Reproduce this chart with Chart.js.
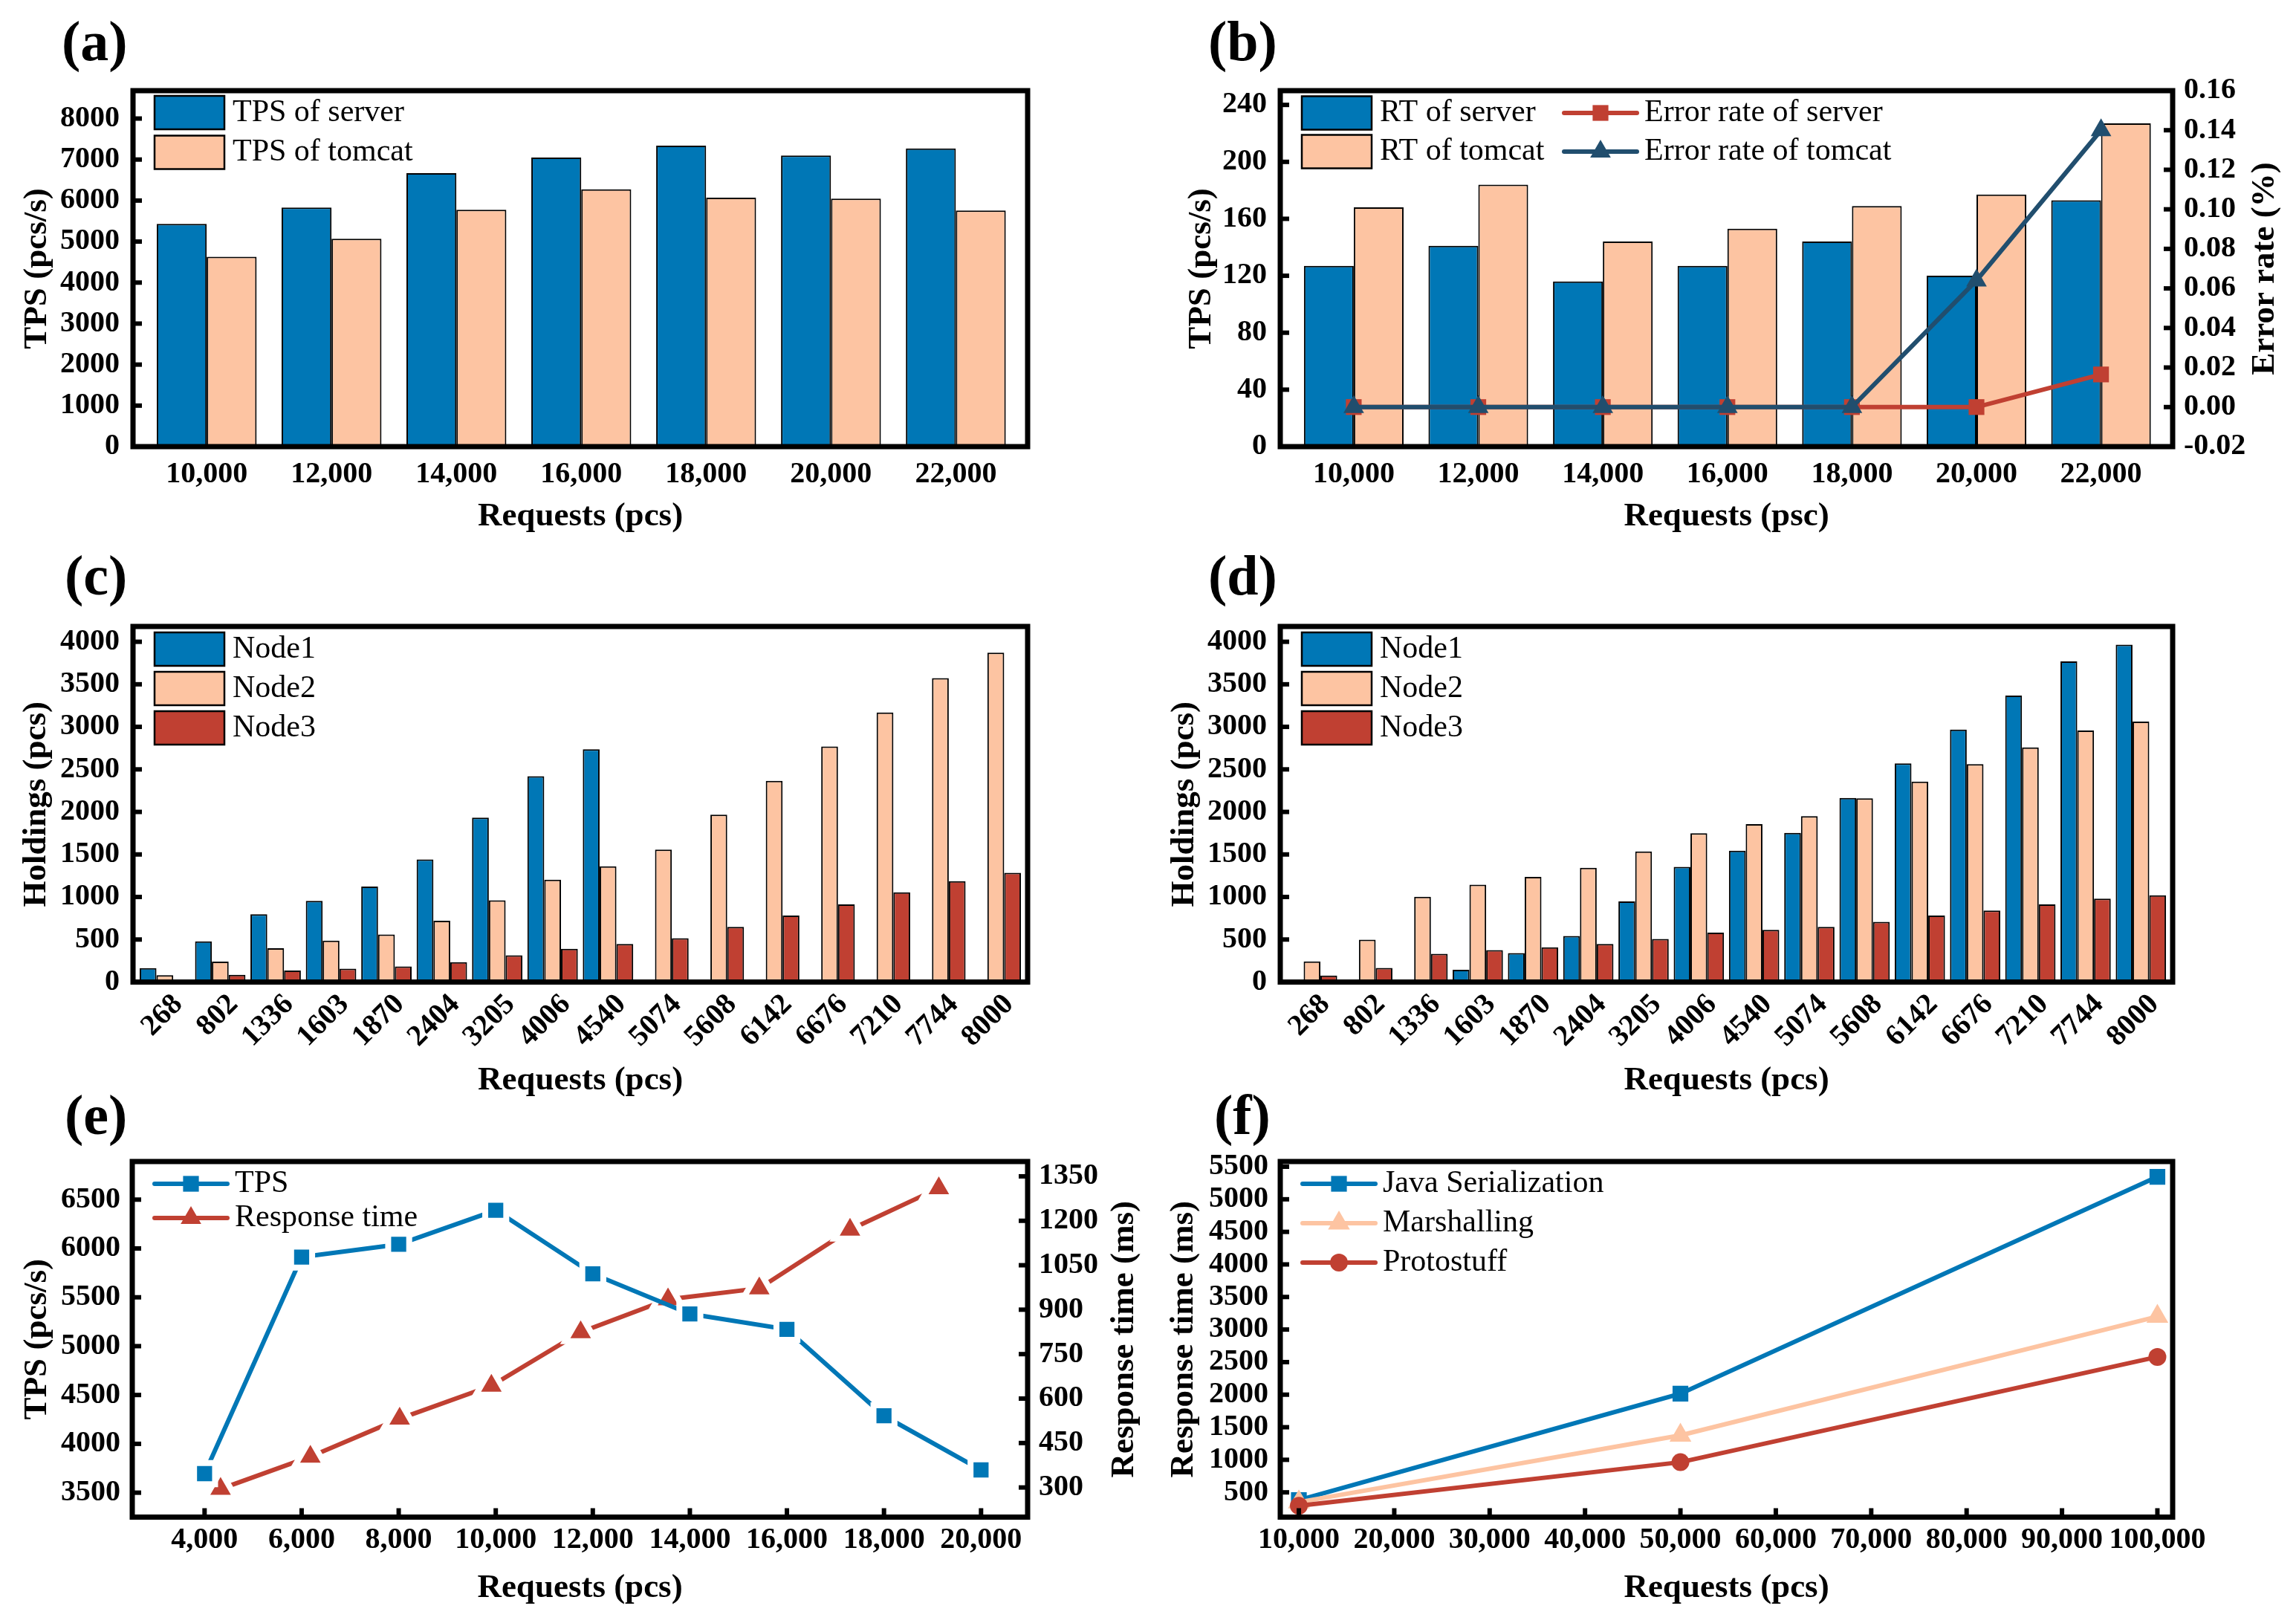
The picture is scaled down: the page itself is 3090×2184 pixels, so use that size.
<!DOCTYPE html>
<html lang="en">
<head>
<meta charset="UTF-8">
<title>Server performance panels</title>
<script src="https://cdn.jsdelivr.net/npm/chart.js"></script>
<style>
  html, body { margin: 0; padding: 0; background: #fff; overflow: hidden; }
  #page { position: relative; width: 3090px; height: 2184px; background: #fff; }
  .panel { position: absolute; }
  .tag { position: absolute; font: bold 76px "Liberation Serif", "Times New Roman", serif; line-height: 76px; color: #000; }
</style>
</head>
<body>
<div id="page">
  <div class="panel" style="left:0;top:0;width:1545px;height:760px"><canvas id="chartA"></canvas></div>
  <div class="panel" style="left:1545px;top:0;width:1545px;height:760px"><canvas id="chartB"></canvas></div>
  <div class="panel" style="left:0;top:740px;width:1545px;height:760px"><canvas id="chartC"></canvas></div>
  <div class="panel" style="left:1545px;top:740px;width:1545px;height:760px"><canvas id="chartD"></canvas></div>
  <div class="panel" style="left:0;top:1480px;width:1545px;height:704px"><canvas id="chartE"></canvas></div>
  <div class="panel" style="left:1545px;top:1480px;width:1545px;height:704px"><canvas id="chartF"></canvas></div>

  <div class="tag" style="left:83px;top:17px">(a)</div>
  <div class="tag" style="left:1626px;top:17px">(b)</div>
  <div class="tag" style="left:87px;top:736px">(c)</div>
  <div class="tag" style="left:1626px;top:736px">(d)</div>
  <div class="tag" style="left:87px;top:1462px">(e)</div>
  <div class="tag" style="left:1634px;top:1462px">(f)</div>
</div>

<script>
// ---- data: (a) TPS
const reqA = [10000, 12000, 14000, 16000, 18000, 20000, 22000];
const tpsServer = [5430, 5830, 6670, 7050, 7340, 7100, 7270];
const tpsTomcat = [4630, 5070, 5775, 6275, 6070, 6050, 5760];
const ticksA = [0, 1000, 2000, 3000, 4000, 5000, 6000, 7000, 8000];

// ---- data: (b) RT and error rate
const rtServer = [127, 141, 116, 127, 144, 120, 173];
const rtTomcat = [168, 184, 144, 153, 169, 177, 227];
const errServer = [0, 0, 0, 0, 0, 0, 0.0165];
const errTomcat = [0, 0, 0, 0, 0, 0.064, 0.140];
const ticksBLeft = [0, 40, 80, 120, 160, 200, 240];
const ticksBRight = [-0.02, 0, 0.02, 0.04, 0.06, 0.08, 0.10, 0.12, 0.14, 0.16];

// ---- data: (c) and (d) holdings per node
const reqNodes = ['268', '802', '1336', '1603', '1870', '2404', '3205', '4006', '4540', '5074', '5608', '6142', '6676', '7210', '7744', '8000'];
const nodeC1 = [164, 478, 798, 955, 1122, 1442, 1933, 2420, 2736, null, null, null, null, null, null, null];
const nodeC2 = [80, 240, 397, 486, 559, 721, 960, 1203, 1361, 1558, 1968, 2365, 2770, 3168, 3573, 3872];
const nodeC3 = [30, 86, 135, 157, 183, 234, 315, 392, 448, 516, 648, 781, 913, 1054, 1186, 1284];
const nodeD1 = [null, null, null, 144, 341, 541, 947, 1353, 1545, 1754, 2164, 2570, 2967, 3368, 3770, 3966];
const nodeD2 = [243, 499, 1003, 1144, 1237, 1344, 1536, 1750, 1857, 1951, 2160, 2356, 2561, 2758, 2958, 3061];
const nodeD3 = [76, 166, 332, 375, 409, 448, 507, 580, 614, 648, 708, 781, 840, 913, 981, 1020];
const ticksHold = [0, 500, 1000, 1500, 2000, 2500, 3000, 3500, 4000];

// ---- data: (e) TPS and response time
const reqE = [4000, 6000, 8000, 10000, 12000, 14000, 16000, 18000, 20000];
const tpsE = [3695, 5912, 6042, 6391, 5740, 5330, 5172, 4287, 3733];
const reqRtE = [4330, 6180, 8020, 9910, 11750, 13550, 15430, 17300, 19130];
const rtE = [295, 404, 532, 643, 824, 935, 972, 1170, 1310];
const ticksETps = [3500, 4000, 4500, 5000, 5500, 6000, 6500];
const ticksERt = [300, 450, 600, 750, 900, 1050, 1200, 1350];

// ---- data: (f) serialization
const reqF = [10000, 50000, 100000];
const javaSer = [380, 2015, 5345];
const marshalling = [350, 1375, 3200];
const protostuff = [295, 963, 2580];
const ticksFX = [10000, 20000, 30000, 40000, 50000, 60000, 70000, 80000, 90000, 100000];
const ticksFY = [500, 1000, 1500, 2000, 2500, 3000, 3500, 4000, 4500, 5000, 5500];

const BLUE = '#0077b6', PEACH = '#fdc4a2', RED = '#c04032', NAVY = '#214e6e';
const SERIF = '"Liberation Serif", "Times New Roman", serif';

Chart.defaults.font.family = SERIF;
Chart.defaults.color = '#000';
Chart.defaults.animation = false;

const tickFont = { size: 40, weight: 'bold' };
const titleFont = { size: 45, weight: 'bold' };
const thousands = v => v.toLocaleString('en-US');

function pairs(xs, ys) {
    return xs.map((x, i) => ({ x: x, y: ys[i] }));
}

function fixedTicks(list) {
    return scale => { scale.ticks = list.map(v => ({ value: v })); };
}

function yAxis(o) {
    return {
        type: 'linear',
        position: o.position || 'left',
        min: o.min, max: o.max,
        afterBuildTicks: fixedTicks(o.ticks),
        afterFit: s => { s.width = o.width; },
        grid: { display: false, drawTicks: false },
        border: { display: false },
        ticks: { font: tickFont, padding: o.pad, autoSkip: false, callback: o.fmt || (v => String(v)) },
        title: o.title
            ? { display: true, text: o.title, font: titleFont, padding: { top: o.titlePad, bottom: 0 } }
            : { display: false }
    };
}

function xAxis(o) {
    return {
        type: 'linear',
        position: 'bottom',
        offset: false,
        min: o.min, max: o.max,
        afterBuildTicks: fixedTicks(o.ticks),
        afterFit: s => { s.height = o.height; },
        grid: { display: false, drawTicks: false },
        border: { display: false },
        ticks: {
            font: tickFont, padding: o.pad, autoSkip: false,
            minRotation: o.rot || 0, maxRotation: o.rot || 0,
            labelOffset: o.shift || 0, callback: o.fmt
        },
        title: { display: true, text: o.title, font: titleFont, padding: { top: 0, bottom: o.titlePad } }
    };
}

function barSet(label, data, color, cp) {
    return {
        type: 'bar', label: label, data: data,
        backgroundColor: color, borderColor: '#000', borderWidth: 2,
        categoryPercentage: cp, barPercentage: 1, order: 3
    };
}

function lineSet(label, data, color, style, radius, order, ring) {
    return {
        type: 'line', label: label, data: data,
        borderColor: color, borderWidth: 6, tension: 0,
        pointStyle: style, pointRadius: radius, pointHoverRadius: radius,
        pointBackgroundColor: color,
        pointBorderColor: '#fff', pointBorderWidth: ring || 0,
        order: order
    };
}

// same geometry as Chart.js point styles
function marker(ctx, style, r, x, y) {
    ctx.beginPath();
    if (style === 'rect') {
        const s = r / Math.SQRT2;
        ctx.rect(x - s, y - s, 2 * s, 2 * s);
    } else if (style === 'triangle') {
        ctx.moveTo(x, y - r);
        ctx.lineTo(x + 0.866 * r, y + 0.5 * r);
        ctx.lineTo(x - 0.866 * r, y + 0.5 * r);
        ctx.closePath();
    } else {
        ctx.arc(x, y, r, 0, Math.PI * 2);
    }
    ctx.fill();
}

// frame, inward ticks, right-side title and legend drawn inside the plot
const panelDecor = {
    id: 'panelDecor',
    afterDraw(chart, args, o) {
        const ctx = chart.ctx, a = chart.chartArea;
        ctx.save();
        ctx.strokeStyle = '#000';
        ctx.lineWidth = 6;
        (o.inTicks || []).forEach(id => {
            const s = chart.scales[id];
            s.ticks.forEach(t => {
                const p = s.getPixelForValue(t.value);
                ctx.beginPath();
                if (s.position === 'left') { ctx.moveTo(a.left, p); ctx.lineTo(a.left + 12, p); }
                else if (s.position === 'right') { ctx.moveTo(a.right, p); ctx.lineTo(a.right - 12, p); }
                else { ctx.moveTo(p, a.bottom); ctx.lineTo(p, a.bottom - 12); }
                ctx.stroke();
            });
        });
        ctx.lineWidth = 7;
        ctx.strokeRect(a.left, a.top, a.right - a.left, a.bottom - a.top);

        if (o.sideTitle) {
            ctx.save();
            ctx.translate(a.right + o.sideTitle.offset, (a.top + a.bottom) / 2);
            ctx.rotate(-Math.PI / 2);
            ctx.font = 'bold 45px ' + SERIF;
            ctx.fillStyle = '#000';
            ctx.textAlign = 'center';
            ctx.textBaseline = 'middle';
            ctx.fillText(o.sideTitle.text, 0, 0);
            ctx.restore();
        }

        ctx.font = '42px ' + SERIF;
        ctx.textAlign = 'left';
        ctx.textBaseline = 'middle';
        (o.legend || []).forEach(it => {
            const ds = chart.data.datasets[it.ds];
            const x = a.left + it.x;
            const y = a.top + o.legendTop + it.row * o.legendStep;
            if (it.box) {
                ctx.fillStyle = ds.backgroundColor;
                ctx.fillRect(x, y - 22.5, 94, 45);
                ctx.lineWidth = 2.5;
                ctx.strokeStyle = '#000';
                ctx.strokeRect(x, y - 22.5, 94, 45);
                ctx.fillStyle = '#000';
                ctx.fillText(ds.label, x + 105, y);
            } else {
                ctx.strokeStyle = ds.borderColor;
                ctx.lineWidth = 6;
                ctx.lineCap = 'round';
                ctx.beginPath();
                ctx.moveTo(x, y);
                ctx.lineTo(x + 98, y);
                ctx.stroke();
                ctx.fillStyle = ds.pointBackgroundColor;
                marker(ctx, ds.pointStyle, it.r, x + 49, y);
                ctx.fillStyle = '#000';
                ctx.fillText(ds.label, x + 108, y);
            }
        });
        ctx.restore();
    }
};

function makeChart(id, datasets, padding, scales, decor) {
    return new Chart(document.getElementById(id), {
        type: 'bar',
        data: { datasets: datasets },
        options: {
            responsive: true,
            maintainAspectRatio: false,
            animation: false,
            layout: { padding: padding },
            plugins: { legend: { display: false }, tooltip: { enabled: false }, panelDecor: decor },
            scales: scales
        },
        plugins: [panelDecor]
    });
}

// (a)
makeChart('chartA',
    [barSet('TPS of server', pairs(reqA, tpsServer), BLUE, 0.8),
     barSet('TPS of tomcat', pairs(reqA, tpsTomcat), PEACH, 0.8)],
    { top: 122, right: 162, bottom: 0, left: 0 },
    {
        x: xAxis({ min: 8820, max: 23150, ticks: reqA, height: 159, pad: 14, fmt: thousands, title: 'Requests (pcs)', titlePad: 38 }),
        y: yAxis({ min: 0, max: 8680, ticks: ticksA, width: 179, pad: 18, title: 'TPS (pcs/s)', titlePad: 23 })
    },
    { inTicks: ['y'], legendTop: 29.5, legendStep: 53.5,
      legend: [{ ds: 0, x: 29, row: 0, box: true }, { ds: 1, x: 29, row: 1, box: true }] });

// (b)
const errServerSet = lineSet('Error rate of server', pairs(reqA, errServer), RED, 'rect', 15, 2);
const errTomcatSet = lineSet('Error rate of tomcat', pairs(reqA, errTomcat), NAVY, 'triangle', 16, 1);
errServerSet.yAxisID = 'y1';
errTomcatSet.yAxisID = 'y1';
makeChart('chartB',
    [barSet('RT of server', pairs(reqA, rtServer), BLUE, 0.8),
     barSet('RT of tomcat', pairs(reqA, rtTomcat), PEACH, 0.8),
     errServerSet, errTomcatSet],
    { top: 122, right: 0, bottom: 0, left: 0 },
    {
        x: xAxis({ min: 8820, max: 23150, ticks: reqA, height: 159, pad: 14, fmt: thousands, title: 'Requests (psc)', titlePad: 38 }),
        y: yAxis({ min: 0, max: 250, ticks: ticksBLeft, width: 178, pad: 18, title: 'TPS (pcs/s)', titlePad: 45 }),
        y1: yAxis({ position: 'right', min: -0.02, max: 0.16, ticks: ticksBRight, width: 166, pad: 15, fmt: v => v.toFixed(2) })
    },
    { inTicks: ['y', 'y1'], sideTitle: { text: 'Error rate (%)', offset: 124 }, legendTop: 30, legendStep: 52,
      legend: [{ ds: 0, x: 29, row: 0, box: true }, { ds: 1, x: 29, row: 1, box: true },
               { ds: 2, x: 382, row: 0, r: 15 }, { ds: 3, x: 382, row: 1, r: 16 }] });

// (c) and (d)
const nodeIdx = reqNodes.map((_, i) => i);
const nodeLegend = [{ ds: 0, x: 29, row: 0, box: true }, { ds: 1, x: 29, row: 1, box: true }, { ds: 2, x: 29, row: 2, box: true }];

makeChart('chartC',
    [barSet('Node1', pairs(nodeIdx, nodeC1), BLUE, 0.91),
     barSet('Node2', pairs(nodeIdx, nodeC2), PEACH, 0.91),
     barSet('Node3', pairs(nodeIdx, nodeC3), RED, 0.91)],
    { top: 103, right: 162, bottom: 0, left: 0 },
    {
        x: xAxis({ min: -0.575, max: 15.575, ticks: nodeIdx, height: 178.5, pad: 7, rot: 45, shift: 18, fmt: v => reqNodes[v], title: 'Requests (pcs)', titlePad: 19 }),
        y: yAxis({ min: 0, max: 4180, ticks: ticksHold, width: 179, pad: 18, title: 'Holdings (pcs)', titlePad: 22 })
    },
    { inTicks: ['y'], legendTop: 30.5, legendStep: 53, legend: nodeLegend });

makeChart('chartD',
    [barSet('Node1', pairs(nodeIdx, nodeD1), BLUE, 0.91),
     barSet('Node2', pairs(nodeIdx, nodeD2), PEACH, 0.91),
     barSet('Node3', pairs(nodeIdx, nodeD3), RED, 0.91)],
    { top: 103, right: 166, bottom: 0, left: 0 },
    {
        x: xAxis({ min: -0.575, max: 15.575, ticks: nodeIdx, height: 178.5, pad: 7, rot: 45, shift: 18, fmt: v => reqNodes[v], title: 'Requests (pcs)', titlePad: 19 }),
        y: yAxis({ min: 0, max: 4180, ticks: ticksHold, width: 178, pad: 18, title: 'Holdings (pcs)', titlePad: 22 })
    },
    { inTicks: ['y'], legendTop: 30.5, legendStep: 53, legend: nodeLegend });

// (e)
const rtSetE = lineSet('Response time', pairs(reqRtE, rtE), RED, 'triangle', 24, 2, 8);
rtSetE.yAxisID = 'y1';
makeChart('chartE',
    [lineSet('TPS', pairs(reqE, tpsE), BLUE, 'rect', 20, 1, 8), rtSetE],
    { top: 83, right: 0, bottom: 0, left: 0 },
    {
        x: xAxis({ min: 2510, max: 20960, ticks: reqE, height: 142.5, pad: 7, fmt: thousands, title: 'Requests (pcs)', titlePad: 20 }),
        y: yAxis({ min: 3250, max: 6890, ticks: ticksETps, width: 178, pad: 16, title: 'TPS (pcs/s)', titlePad: 23 }),
        y1: yAxis({ position: 'right', min: 200, max: 1400, ticks: ticksERt, width: 162, pad: 15 })
    },
    { inTicks: ['x', 'y', 'y1'], sideTitle: { text: 'Response time (ms)', offset: 130 }, legendTop: 30, legendStep: 46,
      legend: [{ ds: 0, x: 30, row: 0, r: 15 }, { ds: 1, x: 30, row: 1, r: 16 }] });

// (f)
makeChart('chartF',
    [lineSet('Java Serialization', pairs(reqF, javaSer), BLUE, 'rect', 15, 3),
     lineSet('Marshalling', pairs(reqF, marshalling), PEACH, 'triangle', 17, 2),
     lineSet('Protostuff', pairs(reqF, protostuff), RED, 'circle', 12, 1)],
    { top: 83, right: 166, bottom: 0, left: 0 },
    {
        x: xAxis({ min: 8050, max: 101600, ticks: ticksFX, height: 142.5, pad: 7, fmt: thousands, title: 'Requests (pcs)', titlePad: 20 }),
        y: yAxis({ min: 120, max: 5580, ticks: ticksFY, width: 178, pad: 16, title: 'Response time (ms)', titlePad: 21 })
    },
    { inTicks: ['x', 'y'], legendTop: 30, legendStep: 53,
      legend: [{ ds: 0, x: 30, row: 0, r: 15 }, { ds: 1, x: 30, row: 1, r: 17 }, { ds: 2, x: 30, row: 2, r: 12 }] });
</script>
</body>
</html>
